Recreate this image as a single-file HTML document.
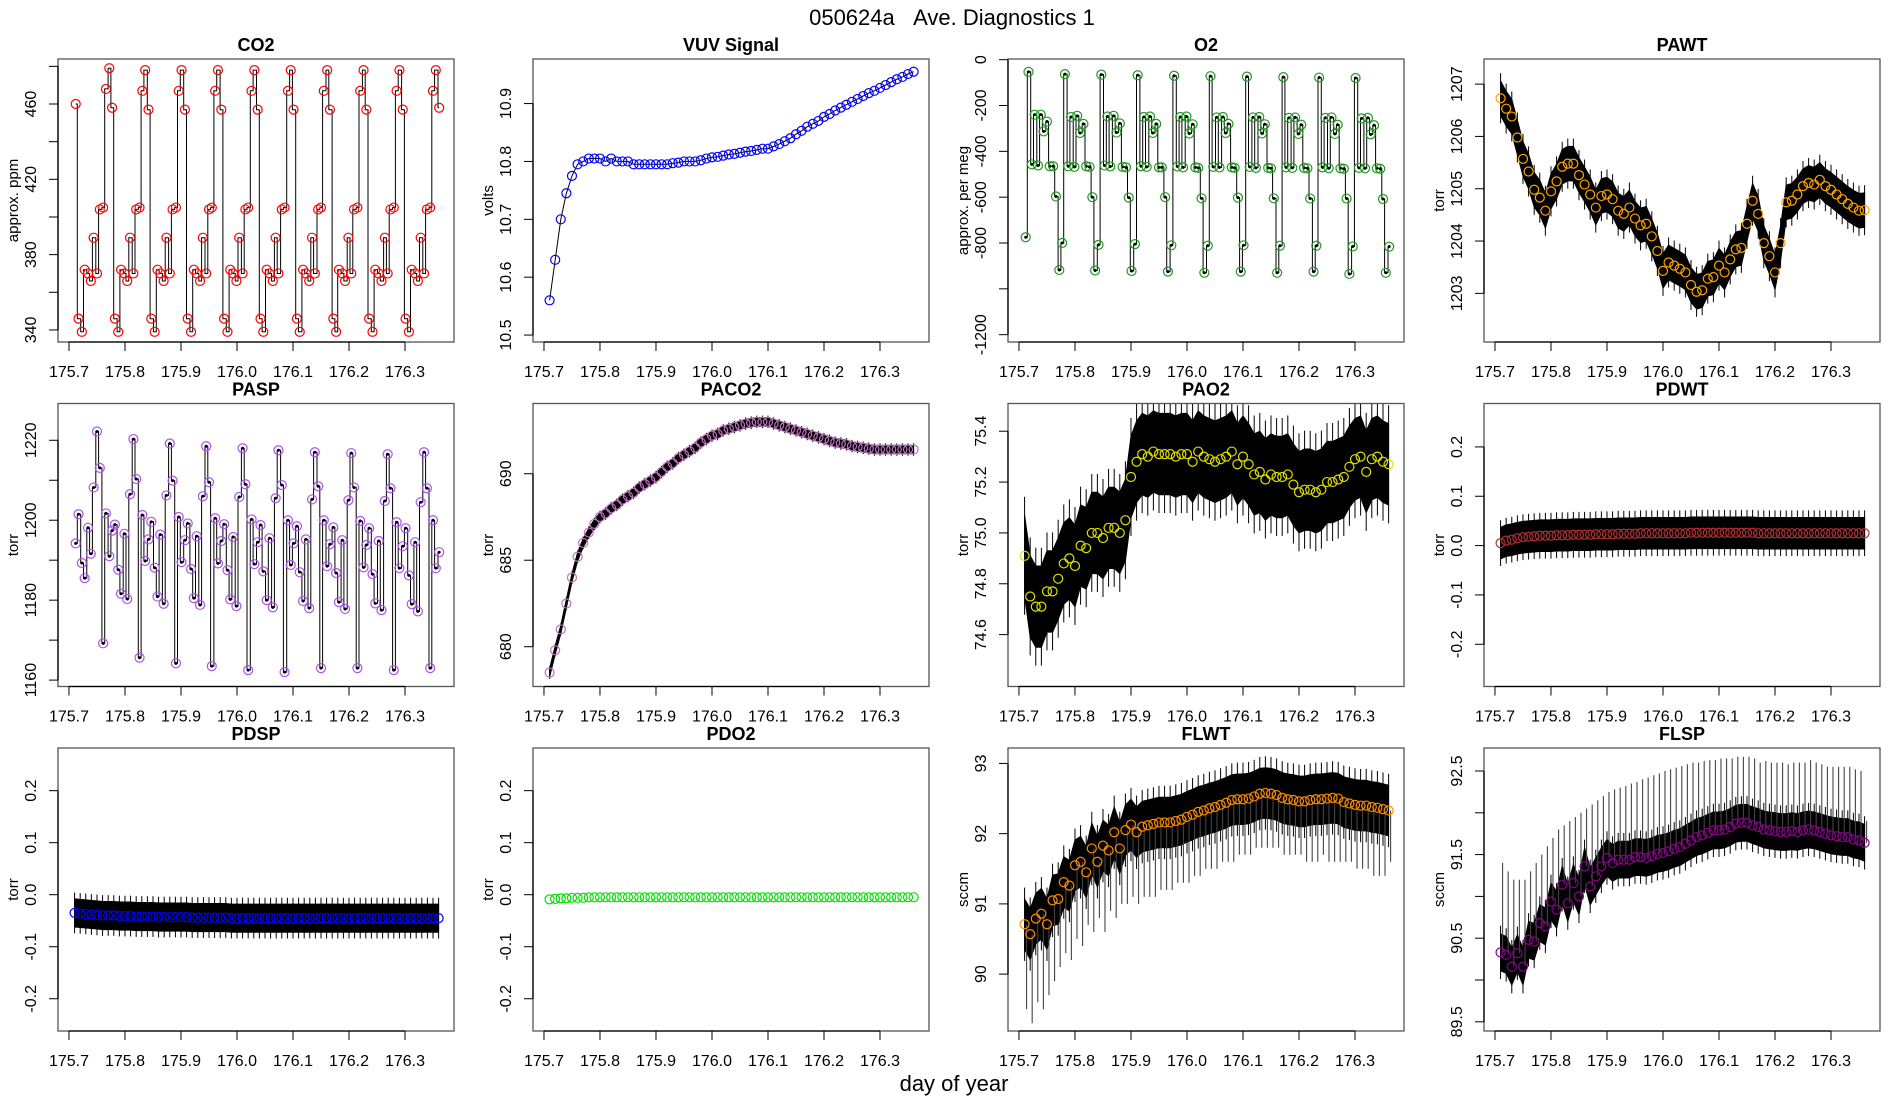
<!DOCTYPE html>
<html><head><meta charset="utf-8"><title>050624a Ave. Diagnostics 1</title>
<style>
html,body{margin:0;padding:0;background:#fff;}
svg{display:block;font-family:"Liberation Sans",Arial,sans-serif;}
</style></head>
<body>
<svg id="chart" xmlns="http://www.w3.org/2000/svg" width="1900" height="1100" viewBox="0 0 1900 1100">
<rect x="0" y="0" width="1900" height="1100" fill="#fff"/>
<text x="952" y="25" text-anchor="middle" font-size="22">050624a&#160;&#160;&#160;Ave. Diagnostics 1</text>
<text x="954" y="1091" text-anchor="middle" font-size="22">day of year</text>
</svg>
<script>
const times121=[175.712,175.717,175.723,175.728,175.734,175.739,175.744,175.750,175.755,175.761,175.766,175.772,175.777,175.782,175.788,175.793,175.799,175.804,175.809,175.815,175.820,175.826,175.831,175.836,175.842,175.847,175.853,175.858,175.863,175.869,175.874,175.880,175.885,175.891,175.896,175.901,175.907,175.912,175.918,175.923,175.928,175.934,175.939,175.945,175.950,175.955,175.961,175.966,175.972,175.977,175.983,175.988,175.993,175.999,176.004,176.010,176.015,176.020,176.026,176.031,176.037,176.042,176.047,176.053,176.058,176.064,176.069,176.074,176.080,176.085,176.091,176.096,176.101,176.107,176.112,176.118,176.123,176.129,176.134,176.139,176.145,176.150,176.155,176.161,176.166,176.172,176.177,176.182,176.188,176.193,176.199,176.204,176.209,176.215,176.220,176.226,176.231,176.236,176.242,176.247,176.253,176.258,176.264,176.269,176.274,176.280,176.285,176.290,176.296,176.301,176.307,176.312,176.318,176.323,176.328,176.334,176.339,176.345,176.350,176.355,176.361];
const times66=[175.71,175.72,175.73,175.74,175.75,175.76,175.77,175.78,175.79,175.80,175.81,175.82,175.83,175.84,175.85,175.86,175.87,175.88,175.89,175.90,175.91,175.92,175.93,175.94,175.95,175.96,175.97,175.98,175.99,176.00,176.01,176.02,176.03,176.04,176.05,176.06,176.07,176.08,176.09,176.10,176.11,176.12,176.13,176.14,176.15,176.16,176.17,176.18,176.19,176.20,176.21,176.22,176.23,176.24,176.25,176.26,176.27,176.28,176.29,176.30,176.31,176.32,176.33,176.34,176.35,176.36];
const xTicks=[175.7,175.8,175.9,176.0,176.1,176.2,176.3];
const xTickLabels=["175.7","175.8","175.9","176.0","176.1","176.2","176.3"];

const co2=[460,
346,339,372,370,366,389,370,404,405,468,479,458,
346,339,372,370,366,389,370,404,405,467,478,457,
346,339,372,370,366,389,370,404,405,467,478,457,
346,339,372,370,366,389,370,404,405,467,478,457,
346,339,372,370,366,389,370,404,405,467,478,457,
346,339,372,370,366,389,370,404,405,467,478,457,
346,339,372,370,366,389,370,404,405,467,478,457,
346,339,372,370,366,389,370,404,405,467,478,457,
346,339,372,370,366,389,370,404,405,467,478,457,
346,339,372,370,366,389,370,404,405,467,478,458];
const o2=[-775,
-53,-457,-240,-462,-240,-313,-270,-465,-465,-597,-918,-800,
-63,-465,-250,-468,-245,-320,-280,-465,-468,-600,-920,-808,
-65,-462,-248,-466,-245,-318,-278,-468,-470,-602,-922,-805,
-68,-465,-250,-468,-248,-320,-280,-470,-470,-600,-925,-810,
-70,-466,-250,-470,-248,-322,-282,-470,-472,-605,-930,-812,
-72,-468,-252,-470,-250,-320,-280,-470,-472,-602,-925,-810,
-74,-468,-252,-472,-250,-322,-282,-472,-474,-605,-930,-812,
-76,-470,-254,-472,-252,-324,-284,-472,-474,-606,-925,-812,
-78,-470,-254,-474,-252,-324,-284,-474,-476,-606,-935,-815,
-80,-472,-256,-474,-254,-326,-286,-474,-476,-608,-930,-816];
const pasp=[1194.2,1201.5,1189.3,1185.5,1198.1,1191.6,1208.2,
1222.2,1213.1,1169.2,1201.7,1191.0,1197.4,1198.9,1187.6,1181.6,1196.6,1180.3,1206.5,
1220.3,1210.3,1165.6,1201.3,1189.8,1195.2,1199.6,1188.1,1180.9,1196.4,1179.1,1206.2,
1219.2,1209.9,1164.2,1200.8,1189.5,1195.0,1199.2,1187.8,1180.5,1196.0,1178.8,1206.0,
1218.5,1209.5,1163.5,1200.5,1189.2,1194.8,1199.0,1187.5,1180.2,1195.8,1178.5,1205.8,
1218.0,1209.0,1162.5,1200.2,1189.0,1194.5,1198.8,1187.2,1180.0,1195.5,1178.2,1205.5,
1217.5,1208.8,1162.0,1200.0,1188.8,1194.2,1198.5,1187.0,1179.8,1195.2,1178.0,1205.2,
1217.0,1208.5,1163.0,1200.0,1188.5,1194.0,1198.2,1186.8,1179.5,1195.0,1177.8,1205.0,
1216.8,1208.2,1163.0,1199.8,1188.2,1193.8,1198.0,1186.5,1179.2,1194.8,1177.5,1204.8,
1216.5,1208.0,1162.5,1199.5,1188.0,1193.5,1198.0,1186.2,1179.0,1194.5,1177.2,1204.5,
1217.0,1208.0,1163.0,1200.0,1188.0,1192.0];
const vuv=[10.56,10.63,10.70,10.745,10.775,10.795,10.80,10.805,10.805,10.805,10.80,10.805,10.80,10.80,10.80,10.795,10.795,10.795,10.795,10.795,10.795,10.795,10.797,10.798,10.80,10.80,10.80,10.802,10.805,10.807,10.808,10.81,10.812,10.813,10.815,10.817,10.818,10.82,10.822,10.822,10.826,10.83,10.835,10.84,10.847,10.853,10.86,10.865,10.87,10.877,10.882,10.888,10.893,10.898,10.903,10.908,10.913,10.918,10.922,10.927,10.932,10.937,10.942,10.946,10.951,10.955];
const pawt=[1206.73,1206.53,1206.38,1205.98,1205.57,1205.33,1204.98,1204.83,1204.58,1204.95,1205.14,1205.42,1205.48,1205.48,1205.26,1205.08,1204.89,1204.64,1204.86,1204.89,1204.80,1204.58,1204.52,1204.64,1204.43,1204.30,1204.33,1204.09,1203.81,1203.43,1203.59,1203.53,1203.47,1203.40,1203.16,1203.03,1203.06,1203.28,1203.31,1203.53,1203.40,1203.65,1203.84,1203.87,1204.33,1204.77,1204.52,1203.96,1203.71,1203.40,1203.96,1204.74,1204.77,1204.89,1205.05,1205.11,1205.08,1205.17,1205.05,1204.98,1204.89,1204.80,1204.71,1204.64,1204.58,1204.59];
const paco2=[678.5,679.8,681.0,682.5,684.0,685.2,686.0,686.6,687.1,687.5,687.7,688.0,688.2,688.5,688.7,688.9,689.2,689.4,689.6,689.8,690.1,690.4,690.6,690.9,691.1,691.3,691.5,691.8,692.0,692.2,692.3,692.5,692.6,692.7,692.8,692.9,692.95,693.0,693.0,693.0,692.9,692.8,692.7,692.6,692.5,692.4,692.3,692.2,692.1,692.0,691.9,691.8,691.75,691.7,691.6,691.55,691.5,691.45,691.4,691.4,691.4,691.4,691.4,691.4,691.4,691.4];
const pao2=[74.91,74.75,74.71,74.71,74.77,74.77,74.82,74.88,74.90,74.87,74.95,74.94,75.00,75.00,74.98,75.02,75.02,75.00,75.05,75.22,75.28,75.31,75.30,75.32,75.31,75.31,75.31,75.30,75.31,75.31,75.28,75.32,75.30,75.29,75.28,75.29,75.30,75.32,75.27,75.30,75.27,75.23,75.24,75.21,75.23,75.22,75.22,75.23,75.19,75.16,75.17,75.17,75.16,75.17,75.20,75.20,75.21,75.22,75.26,75.29,75.30,75.24,75.29,75.30,75.28,75.27];
const pdwt=[0.005,0.01,0.012,0.015,0.017,0.018,0.019,0.02,0.02,0.02,0.021,0.021,0.021,0.022,0.022,0.022,0.022,0.023,0.023,0.023,0.023,0.024,0.024,0.024,0.024,0.025,0.025,0.025,0.025,0.025,0.025,0.025,0.025,0.025,0.026,0.026,0.026,0.026,0.026,0.026,0.026,0.026,0.026,0.026,0.026,0.026,0.025,0.025,0.025,0.025,0.025,0.025,0.025,0.025,0.025,0.025,0.025,0.025,0.025,0.025,0.025,0.025,0.025,0.025,0.025,0.025];
const pdsp=[-0.035,-0.036,-0.037,-0.038,-0.039,-0.04,-0.04,-0.04,-0.041,-0.041,-0.041,-0.042,-0.042,-0.042,-0.042,-0.043,-0.043,-0.043,-0.043,-0.043,-0.043,-0.044,-0.044,-0.044,-0.044,-0.044,-0.044,-0.044,-0.045,-0.045,-0.045,-0.045,-0.045,-0.045,-0.045,-0.045,-0.045,-0.045,-0.045,-0.045,-0.045,-0.045,-0.045,-0.045,-0.045,-0.045,-0.045,-0.045,-0.045,-0.045,-0.045,-0.045,-0.045,-0.045,-0.045,-0.045,-0.045,-0.045,-0.045,-0.045,-0.045,-0.045,-0.045,-0.045,-0.045,-0.045];
const pdo2=[-0.009,-0.008,-0.007,-0.007,-0.006,-0.006,-0.006,-0.005,-0.005,-0.005,-0.005,-0.005,-0.005,-0.005,-0.005,-0.005,-0.005,-0.005,-0.005,-0.005,-0.005,-0.005,-0.005,-0.005,-0.005,-0.005,-0.005,-0.005,-0.005,-0.005,-0.005,-0.005,-0.005,-0.005,-0.005,-0.005,-0.005,-0.005,-0.005,-0.005,-0.005,-0.005,-0.005,-0.005,-0.005,-0.005,-0.005,-0.005,-0.005,-0.005,-0.005,-0.005,-0.005,-0.005,-0.005,-0.005,-0.005,-0.005,-0.005,-0.005,-0.005,-0.005,-0.005,-0.005,-0.005,-0.005];
const flwt=[90.71,90.57,90.79,90.86,90.71,91.05,91.07,91.31,91.26,91.55,91.60,91.45,91.79,91.60,91.83,91.76,92.02,91.79,92.05,92.13,92.02,92.10,92.12,92.14,92.16,92.16,92.16,92.18,92.20,92.24,92.27,92.31,92.33,92.36,92.38,92.41,92.44,92.48,92.49,92.49,92.50,92.53,92.57,92.58,92.57,92.55,92.51,92.49,92.48,92.46,92.46,92.48,92.49,92.49,92.50,92.51,92.50,92.45,92.43,92.41,92.40,92.40,92.38,92.37,92.35,92.33];
const flwtSpikes=[89.5,89.3,89.6,89.5,89.7,89.9,90.1,90.3,90.2,90.5,90.4,90.7,90.6,90.8,90.6,90.9,90.8,91.0,91.0,91.1,91.0,91.1,91.1,91.1,91.2,91.2,91.2,91.3,91.3,91.3,91.4,91.4,91.5,91.5,91.5,91.6,91.6,91.6,91.7,91.7,91.7,91.8,91.8,91.8,91.8,91.8,91.7,91.7,91.7,91.7,91.6,91.6,91.6,91.7,91.6,91.6,91.6,91.6,91.6,91.5,91.5,91.5,91.4,91.4,91.4,91.6];
const flsp=[90.33,90.30,90.16,90.32,90.16,90.48,90.46,90.68,90.64,90.94,90.84,91.14,90.92,91.16,91.00,91.36,91.12,91.24,91.36,91.46,91.40,91.44,91.44,91.44,91.47,91.47,91.46,91.48,91.51,91.52,91.54,91.57,91.59,91.63,91.67,91.71,91.73,91.76,91.79,91.79,91.80,91.83,91.87,91.88,91.88,91.85,91.83,91.80,91.79,91.78,91.77,91.77,91.78,91.77,91.79,91.80,91.79,91.77,91.75,91.73,91.72,91.71,91.71,91.68,91.67,91.64];
const flspSpikes=[91.4,91.3,91.2,91.2,91.2,91.3,91.4,91.5,91.6,91.7,91.8,91.85,91.9,91.95,92.0,92.05,92.1,92.15,92.2,92.25,92.28,92.3,92.32,92.35,92.37,92.4,92.42,92.45,92.47,92.5,92.52,92.54,92.56,92.58,92.6,92.6,92.62,92.63,92.63,92.65,92.65,92.65,92.67,92.67,92.67,92.65,92.6,92.62,92.6,92.6,92.6,92.58,92.6,92.6,92.6,92.63,92.6,92.58,92.55,92.55,92.55,92.55,92.55,92.52,92.5,91.9];

const SVGNS="http://www.w3.org/2000/svg";
const svg=document.getElementById('chart');
const BOXW=396,BOXH=283;
const colLeft=[58,533,1008,1484];
const rowTop=[59,403.5,748];
const XLO=175.6804,XHI=176.3875;

const panels=[
 {key:'co2',title:'CO2',col:0,row:0,ymin:333.6,ymax:483.9,ticks:[340,360,380,400,420,440,460,480],tickLabels:['340','','380','','420','','460',''],ylab:'approx. ppm',color:'#ff0000',x:times121,y:co2,kind:'step'},
 {key:'vuv',title:'VUV Signal',col:1,row:0,ymin:10.488,ymax:10.977,ticks:[10.5,10.6,10.7,10.8,10.9],tickLabels:['10.5','10.6','10.7','10.8','10.9'],ylab:'volts',color:'#0000ff',x:times66,y:vuv,kind:'line'},
 {key:'o2',title:'O2',col:2,row:0,ymin:-1232,ymax:3,ticks:[0,-200,-400,-600,-800,-1000,-1200],tickLabels:['0','-200','-400','-600','-800','','-1200'],ylab:'approx. per meg',color:'#1f9a1f',x:times121,y:o2,kind:'step',dots:true},
 {key:'pawt',title:'PAWT',col:3,row:0,ymin:1202.07,ymax:1207.48,ticks:[1203,1204,1205,1206,1207],tickLabels:['1203','1204','1205','1206','1207'],ylab:'torr',color:'#ffa500',x:times66,y:pawt,kind:'band',hw:0.33},
 {key:'pasp',title:'PASP',col:0,row:1,ymin:1158.4,ymax:1229.2,ticks:[1160,1170,1180,1190,1200,1210,1220],tickLabels:['1160','','1180','','1200','','1220'],ylab:'torr',color:'#b050f0',x:times121,y:pasp,kind:'step',dots:true},
 {key:'paco2',title:'PACO2',col:1,row:1,ymin:677.7,ymax:694.06,ticks:[680,685,690],tickLabels:['680','685','690'],ylab:'torr',color:'#c070c0',x:times66,y:paco2,kind:'band',hw:0.25},
 {key:'pao2',title:'PAO2',col:2,row:1,ymin:74.396,ymax:75.509,ticks:[74.6,74.8,75.0,75.2,75.4],tickLabels:['74.6','74.8','75.0','75.2','75.4'],ylab:'torr',color:'#e0e000',x:times66,y:pao2,kind:'band',hw:0.16},
 {key:'pdwt',title:'PDWT',col:3,row:1,ymin:-0.2856,ymax:0.288,ticks:[-0.2,-0.1,0,0.1,0.2],tickLabels:['-0.2','-0.1','0.0','0.1','0.2'],ylab:'torr',color:'#b03030',x:times66,y:pdwt,kind:'band',hw:0.032},
 {key:'pdsp',title:'PDSP',col:0,row:2,ymin:-0.262,ymax:0.282,ticks:[-0.2,-0.1,0,0.1,0.2],tickLabels:['-0.2','-0.1','0.0','0.1','0.2'],ylab:'torr',color:'#0000ff',x:times66,y:pdsp,kind:'band',hw:0.027},
 {key:'pdo2',title:'PDO2',col:1,row:2,ymin:-0.262,ymax:0.282,ticks:[-0.2,-0.1,0,0.1,0.2],tickLabels:['-0.2','-0.1','0.0','0.1','0.2'],ylab:'torr',color:'#00e000',x:times66,y:pdo2,kind:'plain'},
 {key:'flwt',title:'FLWT',col:2,row:2,ymin:89.19,ymax:93.22,ticks:[90,91,92,93],tickLabels:['90','91','92','93'],ylab:'sccm',color:'#ff8c00',x:times66,y:flwt,kind:'band',hw:0.36,spikes:flwtSpikes},
 {key:'flsp',title:'FLSP',col:3,row:2,ymin:89.39,ymax:92.775,ticks:[89.5,90,90.5,91,91.5,92,92.5],tickLabels:['89.5','','90.5','','91.5','','92.5'],ylab:'sccm',color:'#8b008b',x:times66,y:flsp,kind:'band',hw:0.22,spikes:flspSpikes}
];

function mk(tag,attrs,parent){
  const el=document.createElementNS(SVGNS,tag);
  for(const k in attrs) el.setAttribute(k,attrs[k]);
  (parent||svg).appendChild(el);
  return el;
}

panels.forEach(p=>{
  const L=colLeft[p.col],T=rowTop[p.row];
  const sx=t=>L+(t-XLO)/(XHI-XLO)*BOXW;
  const sy=v=>T+(p.ymax-v)/(p.ymax-p.ymin)*BOXH;
  const g=mk('g',{});
  
  
  const clipId='clip-'+p.key;
  const cp=mk('clipPath',{id:clipId},g);
  mk('rect',{x:L,y:T,width:BOXW,height:BOXH},cp);
  const plot=mk('g',{'clip-path':'url(#'+clipId+')'},g);
  
  

  if(p.kind==='band'){
    const up=p.x.map((t,i)=>sx(t).toFixed(1)+','+sy(p.y[i]+p.hw).toFixed(1));
    const dn=p.x.map((t,i)=>sx(t).toFixed(1)+','+sy(p.y[i]-p.hw).toFixed(1)).reverse();
    const band=mk('polygon',{points:up.concat(dn).join(' '),fill:'#000',stroke:'#000','stroke-width':1},plot);
    
    
    p.x.forEach((t,i)=>{
      const hair=mk('line',{x1:sx(t),x2:sx(t),y1:sy(p.y[i]-p.hw*1.45),y2:sy(p.y[i]+p.hw*1.45),stroke:'#000','stroke-width':1},plot);
      
      
    });
    if(p.spikes){
      p.x.forEach((t,i)=>{
        const s=mk('line',{x1:sx(t)+2,x2:sx(t)+2,y1:sy(p.y[i]),y2:sy(p.spikes[i]),stroke:'#444','stroke-width':1.1},plot);
        
        
      });
    }
  }
  if(p.kind==='line'){
    const pts=p.x.map((t,i)=>sx(t).toFixed(1)+','+sy(p.y[i]).toFixed(1)).join(' ');
    const ln=mk('polyline',{points:pts,fill:'none',stroke:'#000','stroke-width':1},plot);
    
    
  }
  if(p.kind==='step'){
    let d='M'+sx(p.x[0]).toFixed(1)+','+sy(p.y[0]).toFixed(1);
    for(let i=1;i<p.x.length;i++){
      const xm=sx(p.x[i])-1.2;
      d+=' H'+xm.toFixed(1)+' V'+sy(p.y[i]).toFixed(1)+' H'+sx(p.x[i]).toFixed(1);
    }
    const ln=mk('path',{d:d,fill:'none',stroke:'#000','stroke-width':1},plot);
    
    
  }
  p.x.forEach((t,i)=>{
    const c=mk('circle',{cx:sx(t),cy:sy(p.y[i]),r:4.5,fill:'none',stroke:p.color,'stroke-width':1.2},plot);
    
    
    if(p.dots){
      const d=mk('circle',{cx:sx(t),cy:sy(p.y[i]),r:1.5,fill:'#000'},plot);
      
      
    }
  });

  const box=mk('rect',{x:L,y:T,width:BOXW,height:BOXH,fill:'none',stroke:'#555','stroke-width':1.3},g);
  
  

  const ttl=mk('text',{x:L+BOXW/2,y:T-8,'text-anchor':'middle','font-size':18,'font-weight':'bold'},g);
  ttl.textContent=p.title;
  
  

  xTicks.forEach((t,i)=>{
    const tk=mk('line',{x1:sx(t),x2:sx(t),y1:T+BOXH,y2:T+BOXH+9,stroke:'#000','stroke-width':1},g);
    
    
    const lb=mk('text',{x:sx(t),y:T+BOXH+35,'text-anchor':'middle','font-size':16},g);
    lb.textContent=xTickLabels[i];
    
    
  });
  const xa=mk('line',{x1:sx(xTicks[0]),x2:sx(xTicks[xTicks.length-1]),y1:T+BOXH,y2:T+BOXH,stroke:'#000','stroke-width':1.3},g);
  
  

  p.ticks.forEach((v,i)=>{
    const tk=mk('line',{x1:L-9,x2:L,y1:sy(v),y2:sy(v),stroke:'#000','stroke-width':1},g);
    
    
    if(p.tickLabels[i]){
      const X=L-22,Y=sy(v);
      const lb=mk('text',{x:X,y:Y,'text-anchor':'middle','font-size':16,transform:'rotate(-90 '+X+' '+Y+')'},g);
      lb.textContent=p.tickLabels[i];
      
      
    }
  });
  const ya=mk('line',{x1:L,x2:L,y1:sy(p.ticks[0]),y2:sy(p.ticks[p.ticks.length-1]),stroke:'#000','stroke-width':1.3},g);
  
  

  const YX=L-40,YY=T+BOXH/2;
  const yl=mk('text',{x:YX,y:YY,'text-anchor':'middle','font-size':15,transform:'rotate(-90 '+YX+' '+YY+')'},g);
  yl.textContent=p.ylab;
  
  
});
</script>
</body></html>
